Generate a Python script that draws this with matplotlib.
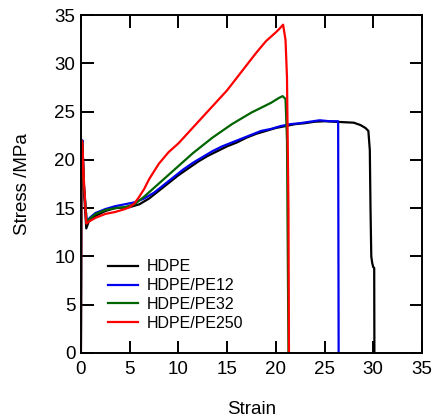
import matplotlib
matplotlib.use("Agg")
import matplotlib.pyplot as plt

plt.rcParams['font.family'] = ['Liberation Sans', 'DejaVu Sans']

# HDPE (black)
hdpe_x = [0, 0.05, 0.15, 0.3, 0.55, 0.8, 1.5, 2.5, 3.5, 5, 6, 7, 8, 9, 10, 11, 12, 13, 14, 15,
          16, 17, 18, 19, 20, 21, 22, 23, 24, 25, 26, 27, 28, 28.7, 29.2, 29.5, 29.65, 29.72,
          29.8, 29.9, 30.0, 30.1, 30.12]
hdpe_y = [0, 21.5, 22.0, 17.0, 12.9, 13.6, 14.2, 14.7, 15.0, 15.1, 15.4, 16.0, 16.8, 17.6, 18.4,
          19.1, 19.8, 20.4, 20.9, 21.4, 21.8, 22.3, 22.7, 23.0, 23.3, 23.5, 23.7, 23.8, 23.95,
          24.0, 23.95, 23.9, 23.85, 23.6, 23.3, 23.0, 21.0, 15.0, 10.0, 9.3, 8.9, 8.8, 0]

# HDPE/PE12 (blue)
pe12_x = [0, 0.05, 0.15, 0.3, 0.6, 0.9, 1.5, 2.5, 3.5, 4.5, 5.5, 6.5, 7.5, 8.5, 9.5, 10.5, 11.5,
          12.5, 13.5, 14.5, 15.5, 16.5, 17.5, 18.5, 19.5, 20.5, 21.5, 22.5, 23.5, 24.5, 25.5,
          26.4, 26.45]
pe12_y = [0, 21.5, 22.0, 17.5, 13.5, 14.0, 14.5, 14.9, 15.2, 15.4, 15.6, 16.0, 16.6, 17.4, 18.2,
          19.0, 19.7, 20.3, 20.9, 21.4, 21.8, 22.2, 22.6, 23.0, 23.2, 23.5, 23.7, 23.8, 23.95,
          24.1, 24.0, 24.0, 0]

# HDPE/PE32 (green)
pe32_x = [0, 0.05, 0.15, 0.3, 0.6, 0.9, 1.5, 2.5, 3.5, 4.5, 5.5, 6.5, 7.5, 8.5, 9.5, 10.5, 11.5,
          12.5, 13.5, 14.5, 15.5, 16.5, 17.5, 18.5, 19.5, 20.3, 20.7, 21.0, 21.15, 21.3]
pe32_y = [0, 22.0, 21.8, 17.5, 13.5, 13.9, 14.4, 14.8, 15.0, 15.1, 15.4, 16.2, 17.1, 18.0, 18.9,
          19.8, 20.7, 21.5, 22.3, 23.0, 23.7, 24.3, 24.9, 25.4, 25.9, 26.4, 26.6, 26.3, 22.0, 0]

# HDPE/PE250 (red)
pe250_x = [0, 0.05, 0.15, 0.3, 0.55, 0.8, 1.5, 2.5, 3.5, 4.5, 5.0, 5.5, 6.0, 6.5, 7.0, 7.5, 8.0,
           9.0, 10.0, 11.0, 12.0, 13.0, 14.0, 15.0, 16.0, 17.0, 18.0, 19.0, 20.0, 20.4, 20.75,
           21.0, 21.15, 21.3, 21.35]
pe250_y = [0, 22.0, 21.8, 18.0, 13.4, 13.6, 14.0, 14.4, 14.6, 14.9, 15.1, 15.5, 16.2, 17.0, 18.0,
           18.8, 19.6, 20.8, 21.7, 22.8, 23.9, 25.0, 26.1, 27.2, 28.5, 29.8, 31.1, 32.3, 33.2,
           33.6, 34.0, 32.4, 28.5, 15.0, 0]

labels = ['HDPE', 'HDPE/PE12', 'HDPE/PE32', 'HDPE/PE250']
colors = ['black', '#0000ee', '#006400', '#ff0000']
xticks = [0, 5, 10, 15, 20, 25, 30, 35]
yticks = [0, 5, 10, 15, 20, 25, 30, 35]

fig = plt.figure(figsize=(4.35, 4.17), dpi=100)
ax = fig.add_axes([0.186, 0.1535, 0.784, 0.8105])

series = [(hdpe_x, hdpe_y), (pe12_x, pe12_y), (pe32_x, pe32_y), (pe250_x, pe250_y)]
for (xs, ys), lab, c in zip(series, labels, colors):
    ax.plot(xs, ys, color=c, lw=1.6, label=lab)

ax.set_xlim(0, 35)
ax.set_ylim(0, 35)
ax.set_xticks(xticks)
ax.set_yticks(yticks)
ax.tick_params(direction='in', length=9, width=1.4, labelsize=13.5, top=True, right=True)
ax.tick_params(axis='x', pad=6)
ax.tick_params(axis='y', pad=4)
for sp in ax.spines.values():
    sp.set_linewidth(1.4)
ax.set_xlabel('Strain', fontsize=13.5, labelpad=16)
ax.set_ylabel('Stress /MPa', fontsize=13.5, labelpad=17)

ax.legend(loc='upper left', bbox_to_anchor=(0.08, 0.277), frameon=False, fontsize=11.5,
          handlelength=1.85, handletextpad=0.55, labelspacing=0.24, borderaxespad=0,
          borderpad=0)

fig.savefig('out.png', dpi=100)
